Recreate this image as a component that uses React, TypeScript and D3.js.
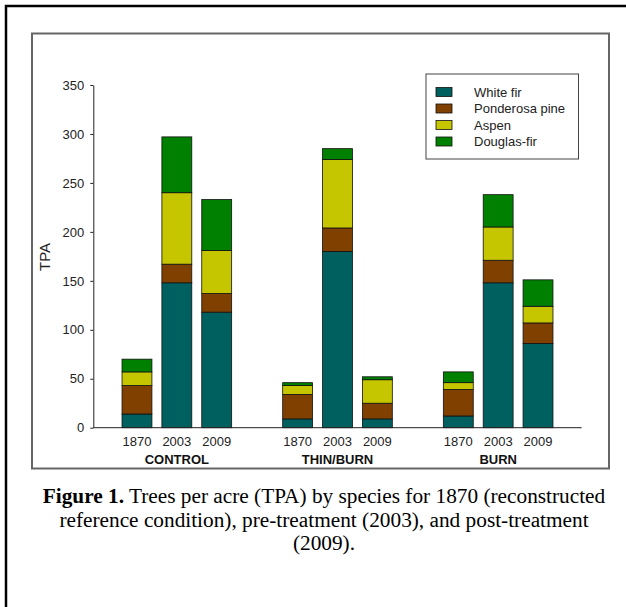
import { useEffect, useRef } from "react";
import * as d3 from "d3";

const groups = ["CONTROL", "THIN/BURN", "BURN"];
const years = ["1870", "2003", "2009"];
const species = ["White fir", "Ponderosa pine", "Aspen", "Douglas-fir"];
const speciesColors = ["#006060", "#804000", "#c6c600", "#008000"];

// TPA per species, order: CONTROL 1870/2003/2009, THIN/BURN ..., BURN ...
const whiteFir = [14, 148, 118, 9, 180, 9, 12, 148, 86];
const ponderosaPine = [29, 19, 19, 25, 24, 16, 27, 23, 21];
const aspen = [14, 73, 44, 9, 70, 24, 7, 34, 17];
const douglasFir = [13, 57, 52, 3, 11, 3, 11, 33, 27];

const yTicks = [0, 50, 100, 150, 200, 250, 300, 350];

const captionLines = [
  ["Figure 1.", " Trees per acre (TPA) by species for 1870 (reconstructed"],
  ["", "reference condition), pre-treatment (2003), and post-treatment"],
  ["", "(2009)."],
];

export default function App() {
  const svgRef = useRef<SVGSVGElement>(null);

  useEffect(() => {
    const el = svgRef.current;
    if (!el) return;
    const svg = d3.select(el);
    svg.selectAll("*").remove();

    const W = 626;
    const H = 607;
    const font = "Liberation Sans, Arial, sans-serif";

    // outer figure frame
    svg
      .append("rect")
      .attr("x", 6)
      .attr("y", 6)
      .attr("width", W + 10)
      .attr("height", H + 10)
      .attr("fill", "white")
      .attr("stroke", "#000")
      .attr("stroke-width", 2.5);

    // inner chart frame
    svg
      .append("rect")
      .attr("x", 32)
      .attr("y", 33.5)
      .attr("width", 577)
      .attr("height", 435)
      .attr("fill", "white")
      .attr("stroke", "#666")
      .attr("stroke-width", 2);

    const x0 = 93.3;
    const x1 = 581.7;
    const y = d3.scaleLinear().domain([0, 350]).range([427.7, 85]);

    const gx = d3.scaleBand<string>().domain(groups).range([x0, x1]).paddingInner(0).paddingOuter(0.02);
    const bx = d3
      .scaleBand<string>()
      .domain(years)
      .range([0, gx.bandwidth()])
      .paddingInner(0.25)
      .paddingOuter(0.64);

    const rows = groups.flatMap((g, gi) =>
      years.map((yr, yi) => {
        const i = gi * 3 + yi;
        return {
          group: g,
          year: yr,
          "White fir": whiteFir[i],
          "Ponderosa pine": ponderosaPine[i],
          Aspen: aspen[i],
          "Douglas-fir": douglasFir[i],
        };
      })
    );

    const stack = d3.stack<any>().keys(species);
    const series = stack(rows);

    const bars = svg.append("g");
    series.forEach((s, si) => {
      bars
        .append("g")
        .selectAll("rect")
        .data(s)
        .join("rect")
        .attr("x", (d: any) => (gx(d.data.group) ?? 0) + (bx(d.data.year) ?? 0))
        .attr("width", bx.bandwidth())
        .attr("y", (d) => y(d[1]))
        .attr("height", (d) => y(d[0]) - y(d[1]))
        .attr("fill", speciesColors[si])
        .attr("stroke", "#111")
        .attr("stroke-width", 0.8);
    });

    // y axis
    const yAxis = svg
      .append("g")
      .attr("transform", `translate(${x0},0)`)
      .call(d3.axisLeft(y).tickValues(yTicks).tickSize(3).tickPadding(6).tickSizeOuter(0));
    yAxis.select(".domain").attr("stroke", "#222");
    yAxis.selectAll(".tick line").attr("stroke", "#222");
    yAxis
      .selectAll(".tick text")
      .attr("font-family", font)
      .attr("font-size", 13)
      .attr("fill", "#222");

    // x axis baseline
    svg
      .append("line")
      .attr("x1", x0)
      .attr("x2", x1)
      .attr("y1", y(0))
      .attr("y2", y(0))
      .attr("stroke", "#222")
      .attr("stroke-width", 1);

    // year labels and group labels
    groups.forEach((g) => {
      years.forEach((yr) => {
        svg
          .append("text")
          .attr("x", (gx(g) ?? 0) + (bx(yr) ?? 0) + bx.bandwidth() / 2)
          .attr("y", 446)
          .attr("text-anchor", "middle")
          .attr("font-family", font)
          .attr("font-size", 13)
          .attr("fill", "#222")
          .text(yr);
      });
      svg
        .append("text")
        .attr("x", (gx(g) ?? 0) + gx.bandwidth() / 2)
        .attr("y", 464)
        .attr("text-anchor", "middle")
        .attr("font-family", font)
        .attr("font-size", 13)
        .attr("font-weight", "bold")
        .attr("fill", "#111")
        .text(g);
    });

    // y label
    svg
      .append("text")
      .attr("transform", "translate(50,257) rotate(-90)")
      .attr("text-anchor", "middle")
      .attr("font-family", font)
      .attr("font-size", 15)
      .attr("fill", "#222")
      .text("TPA");

    // legend
    const lg = svg.append("g");
    lg.append("rect")
      .attr("x", 426)
      .attr("y", 74)
      .attr("width", 152.5)
      .attr("height", 85)
      .attr("fill", "white")
      .attr("stroke", "#444")
      .attr("stroke-width", 1);
    species.forEach((sp, i) => {
      const cy = 92 + i * 16.5;
      lg.append("rect")
        .attr("x", 436)
        .attr("y", cy - 4.5)
        .attr("width", 16)
        .attr("height", 9)
        .attr("fill", speciesColors[i])
        .attr("stroke", "#111")
        .attr("stroke-width", 0.8);
      lg.append("text")
        .attr("x", 474)
        .attr("y", cy)
        .attr("dy", "0.35em")
        .attr("font-family", font)
        .attr("font-size", 13)
        .attr("fill", "#222")
        .text(sp);
    });

    // caption
    captionLines.forEach(([bold, rest], i) => {
      const t = svg
        .append("text")
        .attr("x", 324)
        .attr("y", 503 + i * 23.5)
        .attr("text-anchor", "middle")
        .attr("font-family", "Liberation Serif, Times New Roman, serif")
        .attr("font-size", 21.3)
        .attr("fill", "#000");
      if (bold) t.append("tspan").attr("font-weight", "bold").text(bold);
      t.append("tspan").text(rest);
    });
  }, []);

  return (
    <svg
      ref={svgRef}
      width={626}
      height={607}
      style={{ position: "absolute", left: 0, top: 0, display: "block" }}
    />
  );
}
